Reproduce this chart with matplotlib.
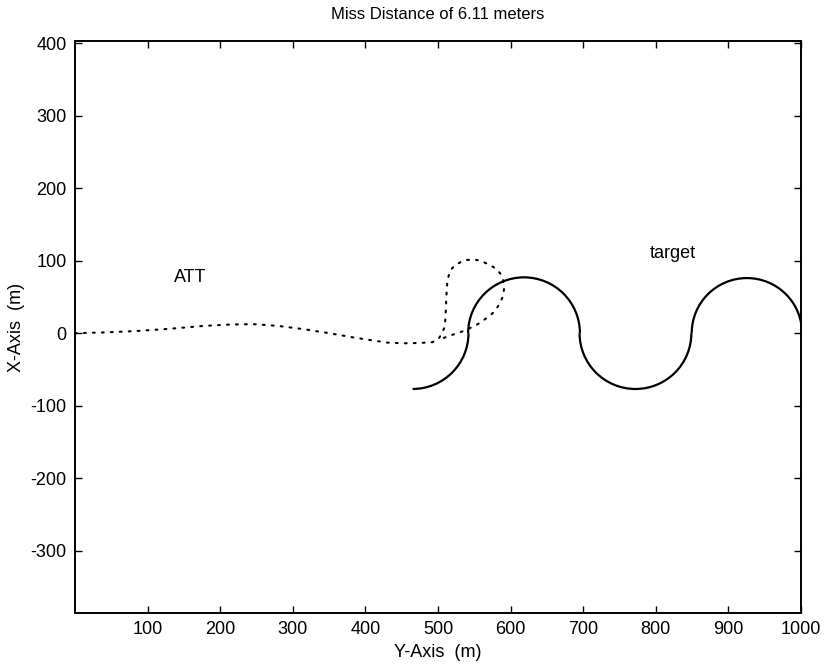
import matplotlib

matplotlib.use("Agg")
from matplotlib import pyplot as plt
import matplotlib.patches as patches

# attacker trajectory (dotted)
att_x = [0, 40, 85, 130, 177, 215, 246, 280, 315, 350, 384, 410, 430, 452,
         475, 492, 500, 505, 509, 510, 511, 511.5, 513, 517, 523, 531, 540,
         549, 559, 567, 575, 581, 586, 589.5, 591, 590, 586, 582, 577, 570,
         563, 554, 544, 535, 526, 517, 508, 501]
att_y = [0, 1, 3, 6, 10, 12, 12.4, 10, 5.5, 0, -6, -10, -13, -14,
         -13.5, -12.5, -9, -1, 8, 18, 35, 50, 73, 87, 93, 98, 101,
         101.6, 100, 96, 92, 88, 82, 75, 62, 52, 43, 36, 29, 23,
         18, 12, 7, 3, -0.5, -3, -6.5, -10]

# target path: circular arcs (centre x, centre y, radius, start deg, end deg)
arc_cx = [465, 618.5, 772, 925.5]
arc_cy = [0, 0, 0, 0]
arc_r = [77, 77, 77, 76]
arc_t1 = [270, 0, 180, 0]
arc_t2 = [360, 180, 360, 180]

title = "Miss Distance of 6.11 meters"
x_label = "Y-Axis  (m)"
y_label = "X-Axis  (m)"
x_ticks = [100, 200, 300, 400, 500, 600, 700, 800, 900, 1000]
y_ticks = [-300, -200, -100, 0, 100, 200, 300, 400]

plt.rcParams["font.family"] = ["Liberation Sans", "DejaVu Sans"]
plt.rcParams["axes.unicode_minus"] = False

fig = plt.figure(figsize=(8.25, 6.66), dpi=100)
ax = fig.add_axes([0.0909, 0.0796, 0.8800, 0.8588])

ax.plot(att_x, att_y, color="k", linewidth=1.5,
        linestyle=(0, (0.9, 3.4)), dash_capstyle="round")

for cx, cy, r, t1, t2 in zip(arc_cx, arc_cy, arc_r, arc_t1, arc_t2):
    arc = patches.Arc((cx, cy), 2 * r, 2 * r, theta1=t1, theta2=t2,
                      color="k", linewidth=1.6)
    ax.add_patch(arc)

ax.text(158, 77, "ATT", fontsize=13, ha="center", va="center")
ax.text(823, 110, "target", fontsize=13, ha="center", va="center")

ax.set_xlim(0, 1000)
ax.set_ylim(-386, 403)
ax.set_xticks(x_ticks)
ax.set_yticks(y_ticks)
ax.tick_params(direction="in", length=5, width=1.0, labelsize=13,
               top=True, right=True, pad=6)
for sp in ax.spines.values():
    sp.set_linewidth(1.4)

ax.set_title(title, fontsize=12, pad=16)
ax.set_xlabel(x_label, fontsize=13, labelpad=4)
ax.set_ylabel(y_label, fontsize=13, labelpad=4)

fig.savefig("out.png", dpi=100)
